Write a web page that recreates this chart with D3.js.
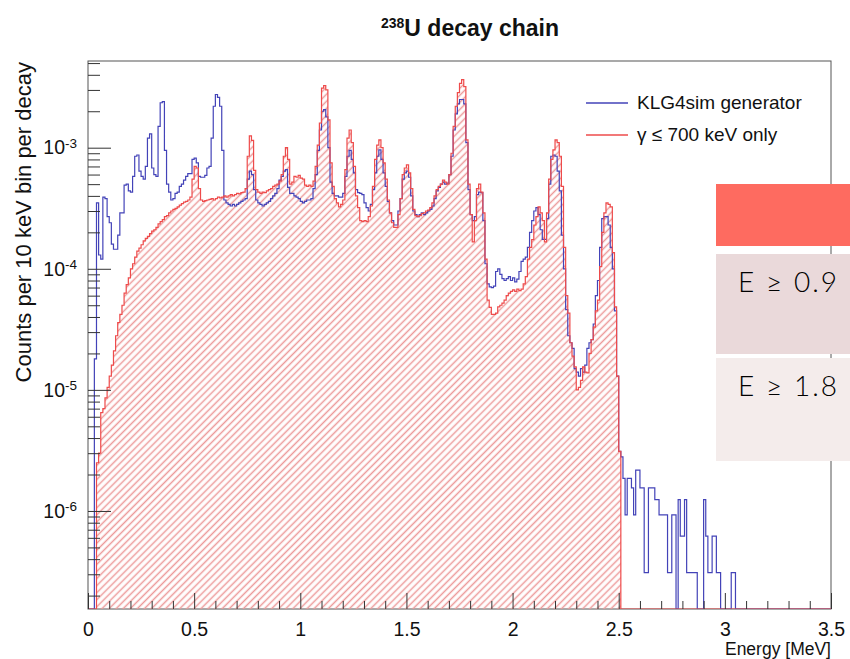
<!DOCTYPE html>
<html lang="en">
<head>
<meta charset="utf-8">
<title>238U decay chain</title>
<style>
  body { margin: 0; background: #fff; }
  svg { display: block; background: #fff; }
  .axis text { font-family: "Liberation Sans", Arial, Helvetica, sans-serif; fill: #111; }
  .axis line { stroke: #333; stroke-width: 1px; }
  .rootText { font-family: "Liberation Sans", Arial, Helvetica, sans-serif; fill: #111; }
</style>
<script src="https://d3js.org/d3.v7.min.js"></script>
</head>
<body>
<div id="chart"></div>
<script>
// both histograms use 10 keV bins, bin 0 = 0-10 keV
var binStart = 0, binWidth = 0.01;

// KLG4sim generator (counts per 10 keV bin per decay)
var klg4sim = [
  0, 0, 0, 1.8e-5, 3.5e-4, 1.3e-4, 1.2e-4, 3.9e-4, 3.8e-4, 2.7e-4,
  2.4e-4, 1.6e-4, 1.45e-4, 1.45e-4, 1.9e-4, 2.9e-4, 2.9e-4, 4.9e-4, 5.0e-4, 4.4e-4,
  4.3e-4, 5.8e-4, 8.5e-4, 8.7e-4, 6.4e-4, 5.8e-4, 5.5e-4, 7.0e-4, 1.2e-3, 1.3e-3,
  6.8e-4, 6.0e-4, 5.8e-4, 1.5e-3, 2.35e-3, 2.4e-3, 9.5e-4, 5.0e-4, 4.3e-4, 3.7e-4,
  3.8e-4, 4.2e-4, 4.3e-4, 4.8e-4, 5.0e-4, 5.4e-4, 5.8e-4, 6.1e-4, 6.1e-4, 8.0e-4,
  8.2e-4, 7.5e-4, 5.8e-4, 5.7e-4, 5.7e-4, 5.9e-4, 6.8e-4, 7.0e-4, 1.2e-3, 2.2e-3,
  2.75e-3, 2.6e-3, 2.2e-3, 9.5e-4, 3.7e-4, 3.5e-4, 3.4e-4, 3.3e-4, 3.4e-4, 3.3e-4,
  3.4e-4, 3.5e-4, 3.6e-4, 3.7e-4, 3.8e-4, 5.5e-4, 6.4e-4, 6.0e-4, 4.5e-4, 3.7e-4,
  3.5e-4, 3.4e-4, 3.3e-4, 3.4e-4, 3.5e-4, 3.6e-4, 3.8e-4, 4.0e-4, 4.2e-4, 4.6e-4,
  5.4e-4, 5.8e-4, 6.4e-4, 6.6e-4, 4.7e-4, 4.2e-4, 4.2e-4, 4.0e-4, 3.9e-4, 3.8e-4,
  3.6e-4, 3.5e-4, 3.6e-4, 3.7e-4, 3.7e-4, 3.8e-4, 4.6e-4, 6.0e-4, 9.5e-4, 1.4e-3,
  2.0e-3, 2.06e-3, 1.8e-3, 1.0e-3, 5.2e-4, 4.2e-4, 4.0e-4, 4.0e-4, 3.9e-4, 3.9e-4,
  4.2e-4, 5.8e-4, 8.5e-4, 9.5e-4, 8.0e-4, 6.2e-4, 4.5e-4, 4.25e-4, 4.2e-4, 4.1e-4,
  3.5e-4, 3.2e-4, 3.0e-4, 3.4e-4, 4.5e-4, 6.2e-4, 8.5e-4, 9.6e-4, 8.0e-4, 6.2e-4,
  4.8e-4, 3.6e-4, 2.9e-4, 2.5e-4, 2.3e-4, 2.3e-4, 3.0e-4, 3.8e-4, 5.5e-4, 6.2e-4,
  6.4e-4, 5.7e-4, 4.0e-4, 3.0e-4, 2.8e-4, 2.7e-4, 2.8e-4, 2.9e-4, 2.8e-4, 2.9e-4,
  3.0e-4, 3.1e-4, 3.3e-4, 3.8e-4, 4.4e-4, 4.7e-4, 5.0e-4, 5.2e-4, 5.0e-4, 5.1e-4,
  6.0e-4, 8.5e-4, 1.4e-3, 1.9e-3, 2.3e-3, 2.5e-3, 2.5e-3, 2.3e-3, 1.1e-3, 4.5e-4,
  2.8e-4, 2.5e-4, 2.7e-4, 4.1e-4, 4.3e-4, 4.25e-4, 2.5e-4, 1.1e-4, 7.5e-5, 7.1e-5,
  7.0e-5, 7.2e-5, 9.5e-5, 1.0e-4, 9.0e-5, 8.3e-5, 8.0e-5, 8.3e-5, 8.6e-5, 8.0e-5,
  8.4e-5, 7.8e-5, 8.2e-5, 9.5e-5, 1.15e-4, 1.2e-4, 1.25e-4, 1.5e-4, 2.0e-4, 2.5e-4,
  3.0e-4, 3.2e-4, 2.8e-4, 2.1e-4, 1.75e-4, 1.75e-4, 2.6e-4, 5.0e-4, 8.5e-4, 8.7e-4,
  8.5e-4, 6.4e-4, 4.4e-4, 1.9e-4, 1.0e-4, 4.6e-5, 2.8e-5, 2.45e-5, 2.2e-5, 1.5e-5,
  1.4e-5, 1.3e-5, 1.5e-5, 1.4e-5, 1.6e-5, 2.2e-5, 2.45e-5, 2.6e-5, 3.5e-5, 6.0e-5,
  8.0e-5, 1.5e-4, 2.6e-4, 2.7e-4, 2.7e-4, 2.3e-4, 1.5e-4, 1.0e-4, 4.5e-5, 1.3e-5,
  3.1e-6, 2.8e-6, 1.86e-6, 9.3e-7, 1.86e-6, 1.86e-6, 1.55e-6, 9.3e-7, 2.17e-6, 2.17e-6,
  1.55e-6, 1.55e-6, 3.1e-7, 3.1e-7, 1.55e-6, 1.55e-6, 1.55e-6, 1.24e-6, 1.24e-6, 9.3e-7,
  9.3e-7, 9.3e-7, 9.3e-7, 3.1e-7, 3.1e-7, 9.3e-7, 9.3e-7, 0, 1.24e-6, 6.2e-7,
  6.2e-7, 1.24e-6, 3.1e-7, 3.1e-7, 3.1e-7, 3.1e-7, 3.1e-7, 0, 0, 0,
  1.24e-6, 6.2e-7, 3.1e-7, 3.1e-7, 6.2e-7, 6.2e-7, 3.1e-7, 3.1e-7, 0, 0,
  0, 0, 0, 3.1e-7, 3.1e-7, 0
];

// gamma <= 700 keV only
var gammaCut = [
  0, 0, 0, 0, 2.5e-6, 3.0e-6, 6.5e-6, 7.0e-6, 8.6e-6, 1.05e-5,
  1.3e-5, 1.6e-5, 2.1e-5, 2.8e-5, 3.6e-5, 4.2e-5, 5.0e-5, 6.3e-5, 7.4e-5, 8.4e-5,
  1.0e-4, 1.1e-4, 1.25e-4, 1.4e-4, 1.48e-4, 1.58e-4, 1.7e-4, 1.78e-4, 1.85e-4, 1.95e-4,
  2.05e-4, 2.1e-4, 2.2e-4, 2.35e-4, 2.45e-4, 2.55e-4, 2.7e-4, 2.75e-4, 2.9e-4, 3.0e-4,
  3.1e-4, 3.15e-4, 3.25e-4, 3.35e-4, 3.45e-4, 3.55e-4, 3.6e-4, 3.7e-4, 3.9e-4, 5.5e-4,
  7.0e-4, 6.8e-4, 4.6e-4, 3.7e-4, 3.6e-4, 3.65e-4, 3.7e-4, 3.75e-4, 3.8e-4, 3.7e-4,
  3.8e-4, 3.9e-4, 3.85e-4, 3.9e-4, 4.0e-4, 3.9e-4, 4.0e-4, 4.1e-4, 4.0e-4, 4.1e-4,
  4.2e-4, 4.15e-4, 4.25e-4, 4.3e-4, 4.6e-4, 8.5e-4, 1.25e-3, 1.15e-3, 6.5e-4, 4.5e-4,
  4.3e-4, 4.2e-4, 4.3e-4, 4.25e-4, 4.4e-4, 4.5e-4, 4.6e-4, 4.8e-4, 4.9e-4, 5.0e-4,
  5.3e-4, 6.0e-4, 8.5e-4, 1.0e-3, 8.0e-4, 5.0e-4, 5.2e-4, 5.8e-4, 5.7e-4, 5.9e-4,
  5.6e-4, 5.5e-4, 4.9e-4, 4.8e-4, 4.9e-4, 4.8e-4, 5.3e-4, 7.0e-4, 1.05e-3, 1.6e-3,
  3.1e-3, 3.25e-3, 3.0e-3, 1.7e-3, 7.5e-4, 4.8e-4, 3.8e-4, 3.5e-4, 3.25e-4, 3.4e-4,
  3.7e-4, 6.6e-4, 1.2e-3, 1.4e-3, 1.1e-3, 7.0e-4, 4.0e-4, 3.2e-4, 2.5e-4, 2.45e-4,
  2.5e-4, 2.45e-4, 2.7e-4, 3.3e-4, 4.8e-4, 8.0e-4, 1.05e-3, 1.16e-3, 1.0e-3, 7.5e-4,
  5.5e-4, 3.7e-4, 2.9e-4, 2.4e-4, 2.2e-4, 2.2e-4, 2.8e-4, 3.8e-4, 6.0e-4, 6.8e-4,
  7.2e-4, 6.2e-4, 4.6e-4, 3.1e-4, 2.75e-4, 2.7e-4, 2.75e-4, 2.85e-4, 2.9e-4, 3.0e-4,
  3.05e-4, 3.2e-4, 3.5e-4, 4.0e-4, 4.5e-4, 4.8e-4, 5.0e-4, 5.4e-4, 5.2e-4, 5.0e-4,
  6.0e-4, 9.0e-4, 1.5e-3, 2.2e-3, 2.85e-3, 3.4e-3, 3.65e-3, 3.2e-3, 1.16e-3, 5.0e-4,
  2.8e-4, 1.67e-4, 2.5e-4, 4.6e-4, 5.0e-4, 4.3e-4, 2.9e-4, 1.2e-4, 5.5e-5, 4.8e-5,
  4.2e-5, 4.2e-5, 4.3e-5, 4.85e-5, 5.0e-5, 5.2e-5, 5.5e-5, 6.0e-5, 6.3e-5, 6.5e-5,
  6.7e-5, 6.5e-5, 6.8e-5, 6.6e-5, 6.8e-5, 7.5e-5, 8.6e-5, 1.2e-4, 1.5e-4, 1.74e-4,
  2.3e-4, 2.7e-4, 3.25e-4, 2.9e-4, 2.5e-4, 1.67e-4, 2.9e-4, 5.5e-4, 8.0e-4, 9.6e-4,
  1.16e-3, 1.1e-3, 8.5e-4, 4.8e-4, 1.5e-4, 6.0e-5, 4.3e-5, 2.45e-5, 1.9e-5, 1.55e-5,
  1.0e-5, 1.05e-5, 1.2e-5, 1.55e-5, 1.4e-5, 1.38e-5, 2.0e-5, 2.6e-5, 3.3e-5, 4.5e-5,
  5.5e-5, 1.04e-4, 2.0e-4, 2.9e-4, 3.5e-4, 3.4e-4, 3.25e-4, 1.36e-4, 4.85e-5, 1.3e-5,
  3.1e-6
];

var xTicks = [0, 0.5, 1, 1.5, 2, 2.5, 3, 3.5];
var xTickLabels = ["0", "0.5", "1", "1.5", "2", "2.5", "3", "3.5"];
var yTicks = [1e-6, 1e-5, 1e-4, 1e-3];
var yTickExponents = ["-6", "-5", "-4", "-3"];
var legendLabels = ["KLG4sim generator", "\u03b3 \u2264 700 keV only"];
var bandLabels = ["", "E \u2265 0.9", "E \u2265 1.8"];

var width = 850, height = 659;
var plot = { left: 88, right: 831, top: 61, bottom: 609 };
var blue = "#4343b8", red = "#ee4b4b";

var svg = d3.select("#chart").append("svg")
    .attr("width", width)
    .attr("height", height);

var x = d3.scaleLinear().domain([0, 3.5]).range([plot.left, plot.right]);
var y = d3.scaleLog().domain([1.55e-7, 5.2e-3]).range([plot.bottom, plot.top]);
var yMin = y.domain()[0];

// hatch like root fill style 3004
var defs = svg.append("defs");
defs.append("pattern")
    .attr("id", "hatch")
    .attr("patternUnits", "userSpaceOnUse")
    .attr("width", 5).attr("height", 5)
    .attr("patternTransform", "rotate(45)")
  .append("line")
    .attr("x1", 2.5).attr("y1", 0).attr("x2", 2.5).attr("y2", 5)
    .attr("stroke", "#ec9a9a")
    .attr("stroke-width", 1.5);

defs.append("clipPath").attr("id", "plotClip")
  .append("rect")
    .attr("x", plot.left).attr("y", plot.top - 1)
    .attr("width", plot.right - plot.left).attr("height", plot.bottom - plot.top + 1);

// frame
svg.append("rect")
    .attr("x", plot.left).attr("y", plot.top)
    .attr("width", plot.right - plot.left)
    .attr("height", plot.bottom - plot.top)
    .attr("fill", "none")
    .attr("stroke", "#555")
    .attr("stroke-width", 1);

// turn bin contents into step points, empty bins sit on the frame bottom
function steps(values) {
    var pts = values.map(function(v, i) {
        return { e: binStart + i * binWidth, v: v > yMin ? v : yMin };
    });
    pts.push({ e: binStart + values.length * binWidth, v: yMin });
    pts.push({ e: x.domain()[1], v: yMin });
    return pts;
}

var line = d3.line()
    .curve(d3.curveStepAfter)
    .x(function(d) { return x(d.e); })
    .y(function(d) { return y(d.v); });

var area = d3.area()
    .curve(d3.curveStepAfter)
    .x(function(d) { return x(d.e); })
    .y0(plot.bottom)
    .y1(function(d) { return y(d.v); });

var histG = svg.append("g").attr("clip-path", "url(#plotClip)");

histG.append("path")
    .datum(steps(gammaCut))
    .attr("d", area)
    .attr("fill", "url(#hatch)");

histG.append("path")
    .datum(steps(klg4sim))
    .attr("d", line)
    .attr("fill", "none")
    .attr("stroke", blue)
    .attr("stroke-width", 1.2);

histG.append("path")
    .datum(steps(gammaCut))
    .attr("d", line)
    .attr("fill", "none")
    .attr("stroke", red)
    .attr("stroke-width", 1.2);

// x axis, ticks inside the frame like root
var xMinor = x.ticks(35).filter(function(t) { return Math.abs(t * 2 - Math.round(t * 2)) > 1e-6; });
svg.append("g")
    .attr("class", "axis")
    .attr("transform", "translate(0," + plot.bottom + ")")
    .call(d3.axisBottom(x).tickValues(xMinor).tickSize(-8).tickFormat(""))
    .call(function(g) { g.select(".domain").remove(); });

svg.append("g")
    .attr("class", "axis")
    .attr("transform", "translate(0," + plot.bottom + ")")
    .call(d3.axisBottom(x).tickValues(xTicks).tickSize(-16).tickPadding(13)
        .tickFormat(function(d, i) { return xTickLabels[i]; }))
    .call(function(g) {
        g.select(".domain").remove();
        g.selectAll("text").attr("font-size", "19.5px");
    });

// y axis
var yMinor = y.ticks().filter(function(t) { return yTicks.indexOf(t) < 0; });
svg.append("g")
    .attr("class", "axis")
    .attr("transform", "translate(" + plot.left + ",0)")
    .call(d3.axisLeft(y).tickValues(yMinor).tickSize(-12).tickFormat(""))
    .call(function(g) { g.select(".domain").remove(); });

svg.append("g")
    .attr("class", "axis")
    .attr("transform", "translate(" + plot.left + ",0)")
    .call(d3.axisLeft(y).tickValues(yTicks).tickSize(-23).tickPadding(11).tickFormat(""))
    .call(function(g) {
        g.select(".domain").remove();
        g.selectAll(".tick text").each(function(d, i) {
            var t = d3.select(this).attr("font-size", "19.5px");
            t.append("tspan").text("10");
            t.append("tspan").attr("dy", "-0.5em").attr("font-size", "13.5px").text(yTickExponents[i]);
        });
    });

// axis titles
svg.append("text")
    .attr("class", "rootText")
    .attr("x", plot.right).attr("y", 655)
    .attr("text-anchor", "end")
    .attr("font-size", "17.5px")
    .text("Energy [MeV]");

svg.append("text")
    .attr("class", "rootText")
    .attr("transform", "translate(31," + (plot.top + 1) + ") rotate(-90)")
    .attr("text-anchor", "end")
    .attr("font-size", "22px")
    .text("Counts per 10 keV bin per decay");

// title
var title = svg.append("text")
    .attr("class", "rootText")
    .attr("x", 470).attr("y", 36)
    .attr("text-anchor", "middle")
    .attr("font-weight", "bold")
    .attr("font-size", "23px");
title.append("tspan").attr("font-size", "14px").attr("dy", "-8").text("238");
title.append("tspan").attr("dy", "8").text("U decay chain");

// legend
var legend = svg.append("g").attr("transform", "translate(586,103)");
legendLabels.forEach(function(label, i) {
    var row = legend.append("g").attr("transform", "translate(0," + (i * 32) + ")");
    row.append("line")
        .attr("x1", 0).attr("x2", 42)
        .attr("stroke", i === 0 ? blue : red)
        .attr("stroke-width", 1.3);
    row.append("text")
        .attr("class", "rootText")
        .attr("x", 51).attr("y", 6)
        .attr("font-size", "19px")
        .text(label);
});

// overlay bands on the right
var bandFill = ["#fe6b60", "#ead9da", "#f4eceb"];
var bandTop = [184, 254, 358], bandBottom = [246, 354, 461];
var bands = svg.append("g");
bandLabels.forEach(function(label, i) {
    bands.append("rect")
        .attr("x", 716).attr("y", bandTop[i])
        .attr("width", width - 716)
        .attr("height", bandBottom[i] - bandTop[i])
        .attr("fill", bandFill[i]);
    if (label) {
        bands.append("text")
            .attr("x", 738).attr("y", bandTop[i] + 38)
            .attr("textLength", 99)
            .attr("lengthAdjust", "spacing")
            .attr("font-family", "Lato, 'Open Sans', sans-serif")
            .attr("font-weight", 300)
            .attr("font-size", "28px")
            .attr("fill", "#000")
            .text(label);
    }
});
</script>
</body>
</html>
